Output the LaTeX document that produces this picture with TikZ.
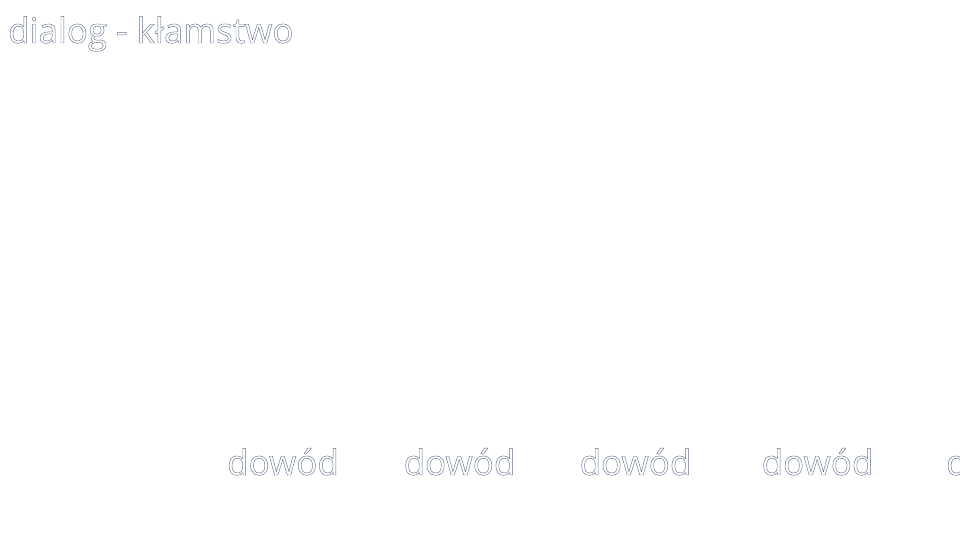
\documentclass[tikz,border=0pt]{standalone}
\usepackage{fontspec}
\setmainfont{Open Sans}
\usetikzlibrary{positioning}
% hollow (stroked only) letters, like the reference
\newcommand{\hollow}[1]{\special{pdf:literal direct 1 Tr 0.45 w 0.4 0.45 0.55 RG}#1\special{pdf:literal direct 0 Tr}}

\begin{document}
\begin{tikzpicture}[
  x=1pt, y=1pt,
  label/.style={inner sep=0pt, font=\fontsize{35}{42}\selectfont},
]
  \useasboundingbox (0,0) rectangle (960,-540);
  \clip (0,0) rectangle (960,-540);
  \node[label, anchor=base west] (title) at (8,-43) {\hollow{dialog - kłamstwo}};

  \node[label, anchor=base] (ev1) at (283,-475) {\hollow{dowód}};
  \node[label, anchor=base] (ev2) at (459.5,-475) {\hollow{dowód}};
  \node[label, anchor=base] (ev3) at (635.5,-475) {\hollow{dowód}};
  \node[label, anchor=base] (ev4) at (817.5,-475) {\hollow{dowód}};
  \node[label, anchor=base] (ev5) at (1002,-475) {\hollow{dowód}};
\end{tikzpicture}
\end{document}
